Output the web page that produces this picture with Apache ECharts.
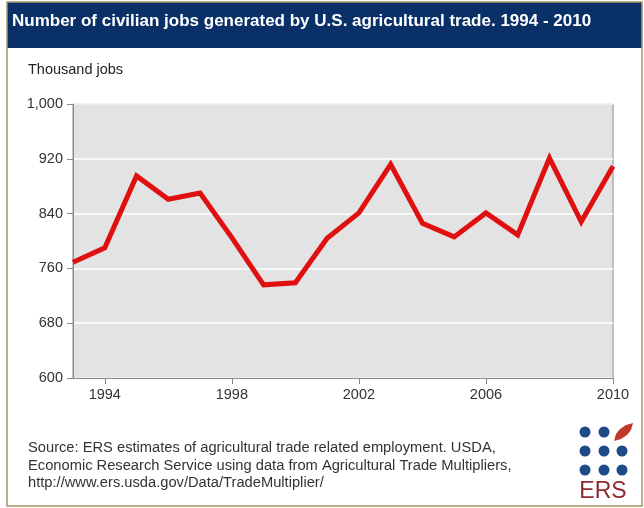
<!DOCTYPE html>
<html><head><meta charset="utf-8">
<script src="https://cdn.jsdelivr.net/npm/echarts@6/dist/echarts.min.js"></script>
<style>html,body{margin:0;padding:0;background:#fff}#c{width:644px;height:508px}</style>
</head><body><div id="c"></div>
<script>
const years = ['1993','1994','1995','1996','1997','1998','1999','2000','2001','2002','2003','2004','2005','2006','2007','2008','2009','2010'];
const jobs = [769, 790, 895, 861, 870, 805, 736, 739, 804, 841, 912, 826, 806, 841, 809, 921, 828, 909];
const shownYears = ['1994','1998','2002','2006','2010'];
const titleText = 'Number of civilian jobs generated by U.S. agricultural trade. 1994 - 2010';
const unitText = 'Thousand jobs';
const sourceText = 'Source: ERS estimates of agricultural trade related employment. USDA,\nEconomic Research Service using data from Agricultural Trade Multipliers,\nhttp://www.ers.usda.gov/Data/TradeMultiplier/';

const chart = echarts.init(document.getElementById('c'));
const font = 'Liberation Sans, Arial, sans-serif';
const dot = (x, y) => ({type:'circle', shape:{cx:x, cy:y, r:5.5}, style:{fill:'#1f4a88'}});
chart.setOption({
  backgroundColor:'#fff',
  animation:false,
  textStyle:{fontFamily:font},
  grid:{left:73, right:31, top:104, bottom:130, show:true, backgroundColor:'#e3e3e3', borderColor:'#8a8a8a', borderWidth:1},
  xAxis:{type:'category', data:years, boundaryGap:false,
    axisLine:{lineStyle:{color:'#8a8a8a'}},
    axisTick:{show:true, length:6, lineStyle:{color:'#8a8a8a'}, interval:(i,v)=>shownYears.includes(v)},
    axisLabel:{color:'#333', fontSize:14.5, margin:9, interval:(i,v)=>shownYears.includes(v)}},
  yAxis:{type:'value', min:600, max:1000, interval:80,
    axisLine:{show:true, lineStyle:{color:'#8a8a8a'}},
    axisTick:{show:true, length:6, lineStyle:{color:'#8a8a8a'}},
    splitLine:{lineStyle:{color:'#ffffff', width:1.5}},
    axisLabel:{color:'#333', fontSize:14.5, margin:10, formatter:v=>v.toLocaleString('en-US')}},
  series:[{type:'line', data:jobs, showSymbol:false, lineStyle:{color:'#e01010', width:5, join:'miter'}}],
  graphic:[
    {type:'rect', shape:{x:7, y:2, width:635, height:46}, style:{fill:'#0a3167'}},
    {type:'rect', shape:{x:7, y:2, width:635, height:504}, style:{fill:'none', stroke:'#a8966a', lineWidth:1.5}, silent:true},
    {type:'text', x:12, y:13, style:{text:titleText, fill:'#fff', font:'bold 17px '+font}},
    {type:'text', x:28, y:62, style:{text:unitText, fill:'#222', font:'14.5px '+font}},
    {type:'text', x:28, y:439.5, style:{text:sourceText, fill:'#333', font:'14.7px '+font, lineHeight:17.5}},
    dot(585,432), dot(604,432),
    {type:'polygon', shape:{points:[[614,441],[616,434],[620,429],[626,425],[633,423],[631,430],[627,435],[621,439]]}, style:{fill:'#c0392b'}},
    dot(585,451), dot(604,451), dot(622,451),
    dot(585,470), dot(604,470), dot(622,470),
    {type:'text', x:603, y:480, style:{text:'ERS', fill:'#8e2a30', font:'23px '+font, align:'center'}}
  ]
});
</script></body></html>
